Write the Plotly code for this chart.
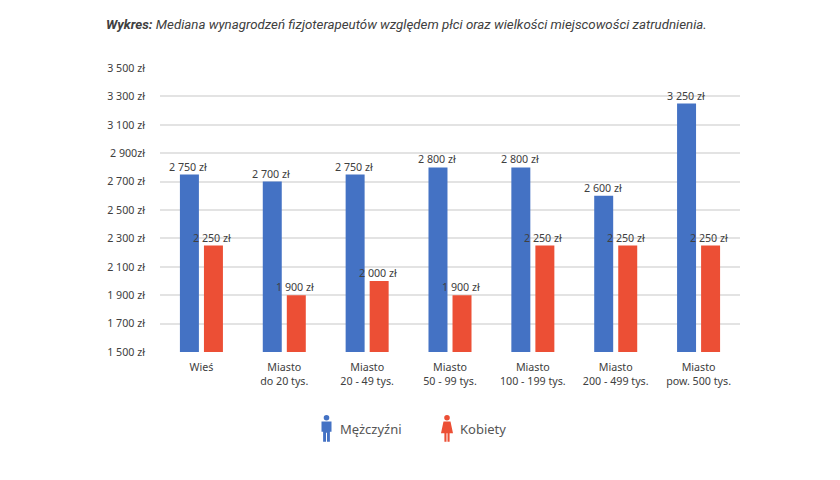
import plotly.graph_objects as go

W, H = 840, 480
L, R, T, B = 160, 100, 67.5, 128

categories = ["Wieś", "Miasto<br>do 20 tys.", "Miasto<br>20 - 49 tys.", "Miasto<br>50 - 99 tys.",
              "Miasto<br>100 - 199 tys.", "Miasto<br>200 - 499 tys.", "Miasto<br>pow. 500 tys."]
men = [2750, 2700, 2750, 2800, 2800, 2600, 3250]
women = [2250, 1900, 2000, 1900, 2250, 2250, 2250]
tick_values = [1500, 1700, 1900, 2100, 2300, 2500, 2700, 2900, 3100, 3300, 3500]
tick_labels = ["1 500 zł", "1 700 zł", "1 900 zł", "2 100 zł", "2 300 zł", "2 500 zł",
               "2 700 zł", "2 900zł", "3 100 zł", "3 300 zł", "3 500 zł"]

BLUE = "#4472c4"
RED = "#ec4f35"
TEXT = "#404040"
FONT = "Noto Sans, Open Sans, sans-serif"


def pln(v):
    return f"{v // 1000} {v % 1000:03d} zł"


def px(x):
    return (x - L) / (W - L - R)


def py(y):
    return (H - B - y) / (H - T - B)


def figure_icon(cx, top, colour, outline):
    # Standing figure: round head above a filled body outline
    head = dict(type="circle", xref="paper", yref="paper", x0=px(cx - 2.8), x1=px(cx + 2.8),
                y0=py(top + 5.6), y1=py(top), fillcolor=colour, line_width=0)
    body = "M" + " L".join(f"{px(cx + a):.5f},{py(top + b):.5f}" for a, b in outline) + " Z"
    return [head, dict(type="path", xref="paper", yref="paper", path=body, fillcolor=colour, line_width=0)]


MAN_OUTLINE = [(-5, 6.5), (5, 6.5), (5, 17), (3.4, 17), (3.4, 27), (0.5, 27), (0.5, 18), (-0.5, 18),
               (-0.5, 27), (-3.4, 27), (-3.4, 17), (-5, 17)]
WOMAN_OUTLINE = [(-3.5, 6.5), (3.5, 6.5), (6, 18.5), (2.6, 18.5), (2.6, 27), (0.5, 27), (0.5, 18.5),
                 (-0.5, 18.5), (-0.5, 27), (-2.6, 27), (-2.6, 18.5), (-6, 18.5)]

fig = go.Figure()
for name, values, colour in (("Mężczyźni", men, BLUE), ("Kobiety", women, RED)):
    fig.add_trace(go.Bar(name=name, x=categories, y=values,
                         marker=dict(color=colour, line_width=0), showlegend=False))

# Value labels sit just above each bar; the red ones lean left over the neighbouring blue bar
value_labels = []
for values, shift in ((men, -13), (women, 10.5)):
    for category, value in zip(categories, values):
        value_labels.append(dict(text=pln(value), xref="x", yref="y", x=category, y=value,
                                 xanchor="center", yanchor="bottom", xshift=shift, yshift=-1,
                                 showarrow=False, font=dict(size=10.7, color=TEXT, family=FONT)))

fig.update_layout(
    width=W, height=H, autosize=False,
    margin=dict(l=L, r=R, t=T, b=B),
    paper_bgcolor="white", plot_bgcolor="white",
    barmode="group", bargap=0.42, bargroupgap=0.21,
    font=dict(family=FONT, color=TEXT, size=10.7),
    shapes=figure_icon(326.5, 415, BLUE, MAN_OUTLINE) + figure_icon(447, 415, RED, WOMAN_OUTLINE),
    annotations=value_labels + [
        dict(text="<b><i>Wykres:</i></b><i> Mediana wynagrodzeń fizjoterapeutów względem płci oraz wielkości miejscowości zatrudnienia.</i>",
             xref="paper", yref="paper", x=px(104), y=py(24), xanchor="left", yanchor="middle",
             showarrow=False, font=dict(family="Roboto, sans-serif", size=13.3, color=TEXT)),
        dict(text="Mężczyźni", xref="paper", yref="paper", x=px(338), y=py(429), xanchor="left",
             yanchor="middle", showarrow=False, font=dict(family=FONT, size=13, color="#555555")),
        dict(text="Kobiety", xref="paper", yref="paper", x=px(458), y=py(429), xanchor="left",
             yanchor="middle", showarrow=False, font=dict(family=FONT, size=13, color="#555555")),
    ],
)
fig.update_xaxes(type="category", showgrid=False, ticks="", showline=False, zeroline=False,
                 tickfont=dict(size=10.7, color=TEXT, family=FONT), tickangle=0, ticklabelstandoff=7)
fig.update_yaxes(range=[1500, 3500], tickmode="array", tickvals=tick_values, ticktext=tick_labels,
                 gridcolor="#e3e3e3", gridwidth=1.5, zeroline=False, showline=False, ticks="",
                 tickfont=dict(size=10.7, color=TEXT, family=FONT), ticklabelstandoff=14)

fig.write_html("out.html")
